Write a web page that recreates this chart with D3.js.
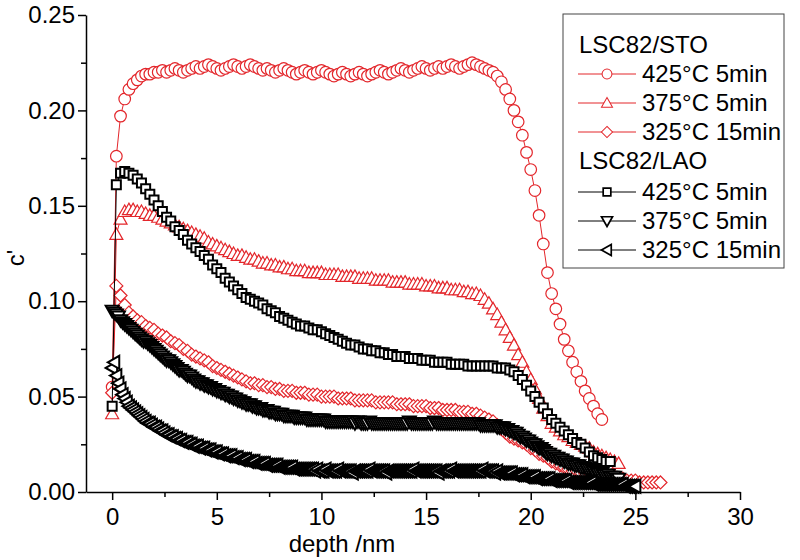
<!DOCTYPE html>
<html><head><meta charset="utf-8">
<script src="https://cdn.jsdelivr.net/npm/d3@7"></script>
<style>body{margin:0;background:#fff}svg{display:block}text{font-family:"Liberation Sans",Arial,sans-serif}</style>
</head><body><svg id="c" width="800" height="560"></svg>
<script>
// ---- data (depth in nm, uniform sampling step per series) ----
const xTicks = [0, 5, 10, 15, 20, 25, 30];
const xMinor = [2.5, 7.5, 12.5, 17.5, 22.5, 27.5];
const yTicks = [0, 0.05, 0.10, 0.15, 0.20, 0.25];
const yMinor = [0.025, 0.075, 0.125, 0.175, 0.225];
const groupLabels = ["LSC82/STO", "LSC82/LAO"];
const seriesLabels = ["425°C 5min", "375°C 5min", "325°C 15min", "425°C 5min", "375°C 5min", "325°C 15min"];
const seriesSteps = [0.2, 0.2, 0.2, 0.2, 0.1, 0.1];

const sto425 = [
0.055,0.176,0.197,0.206,0.211,0.214,0.216,0.218,0.219,0.219,
0.220,0.220,0.221,0.220,0.221,0.222,0.221,0.220,0.221,0.222,
0.223,0.222,0.223,0.224,0.223,0.222,0.221,0.222,0.223,0.224,
0.223,0.222,0.223,0.224,0.223,0.222,0.221,0.222,0.221,0.220,
0.221,0.222,0.221,0.220,0.219,0.220,0.221,0.220,0.219,0.220,
0.221,0.220,0.219,0.218,0.219,0.220,0.219,0.218,0.219,0.220,
0.219,0.218,0.219,0.220,0.221,0.220,0.219,0.220,0.221,0.222,
0.221,0.220,0.221,0.222,0.223,0.222,0.221,0.222,0.223,0.222,
0.223,0.224,0.223,0.222,0.223,0.224,0.225,0.224,0.223,0.222,
0.221,0.220,0.218,0.215,0.211,0.206,0.200,0.194,0.187,0.178,
0.169,0.158,0.145,0.130,0.115,0.104,0.096,0.088,0.080,0.074,
0.068,0.063,0.058,0.053,0.049,0.045,0.041,0.038];
const sto375 = [
0.041,0.135,0.143,0.147,0.148,0.148,0.147,0.147,0.146,0.145,
0.145,0.144,0.143,0.142,0.141,0.140,0.139,0.138,0.137,0.136,
0.135,0.134,0.133,0.131,0.130,0.129,0.128,0.127,0.126,0.125,
0.124,0.124,0.123,0.122,0.122,0.121,0.120,0.120,0.119,0.119,
0.118,0.118,0.117,0.117,0.116,0.116,0.116,0.115,0.115,0.115,
0.115,0.114,0.114,0.114,0.114,0.113,0.113,0.113,0.113,0.112,
0.112,0.112,0.112,0.111,0.111,0.111,0.111,0.110,0.110,0.110,
0.110,0.109,0.109,0.109,0.109,0.108,0.108,0.108,0.107,0.107,
0.107,0.106,0.106,0.106,0.105,0.105,0.104,0.104,0.103,0.101,
0.099,0.096,0.093,0.089,0.085,0.081,0.077,0.072,0.068,0.063,
0.059,0.054,0.049,0.044,0.040,0.036,0.034,0.032,0.030,0.029,
0.027,0.026,0.025,0.024,0.023,0.021,0.020,0.019,0.018,0.017,
0.016,0.015];
const sto325 = [
0.052,0.108,0.103,0.098,0.094,0.092,0.090,0.089,0.087,0.086,
0.085,0.083,0.082,0.081,0.079,0.078,0.077,0.075,0.074,0.072,
0.071,0.070,0.069,0.068,0.066,0.065,0.064,0.063,0.062,0.061,
0.060,0.059,0.058,0.057,0.057,0.056,0.056,0.055,0.055,0.054,
0.054,0.053,0.053,0.053,0.052,0.052,0.052,0.051,0.051,0.051,
0.050,0.050,0.050,0.050,0.049,0.049,0.049,0.049,0.048,0.048,
0.048,0.048,0.048,0.047,0.047,0.047,0.047,0.047,0.046,0.046,
0.046,0.046,0.045,0.045,0.045,0.045,0.044,0.044,0.044,0.043,
0.043,0.043,0.043,0.042,0.042,0.042,0.041,0.041,0.040,0.039,
0.038,0.037,0.035,0.033,0.031,0.029,0.028,0.027,0.026,0.025,
0.023,0.022,0.020,0.019,0.018,0.016,0.015,0.014,0.013,0.012,
0.011,0.011,0.010,0.010,0.010,0.009,0.009,0.009,0.008,0.008,
0.008,0.007,0.007,0.006,0.006,0.006,0.005,0.005,0.005,0.005,
0.005,0.005];
const lao425 = [
0.045,0.161,0.167,0.168,0.167,0.166,0.164,0.162,0.159,0.156,
0.153,0.150,0.147,0.144,0.142,0.139,0.137,0.135,0.132,0.130,
0.128,0.126,0.124,0.122,0.119,0.117,0.115,0.112,0.110,0.108,
0.106,0.104,0.102,0.101,0.100,0.099,0.098,0.096,0.095,0.094,
0.092,0.091,0.090,0.089,0.088,0.087,0.087,0.086,0.085,0.085,
0.084,0.083,0.082,0.081,0.080,0.079,0.078,0.077,0.077,0.076,
0.075,0.075,0.074,0.074,0.073,0.073,0.072,0.072,0.071,0.071,
0.071,0.070,0.070,0.070,0.069,0.069,0.069,0.068,0.068,0.068,
0.068,0.067,0.067,0.067,0.067,0.066,0.066,0.066,0.066,0.066,
0.066,0.066,0.065,0.065,0.065,0.064,0.063,0.061,0.059,0.056,
0.053,0.050,0.047,0.044,0.041,0.038,0.036,0.034,0.032,0.030,
0.028,0.026,0.025,0.023,0.021,0.019,0.018,0.017,0.016,0.016];
const lao375 = [
0.095,0.094,0.093,0.092,0.090,0.089,0.088,0.087,0.086,0.085,
0.084,0.083,0.082,0.081,0.080,0.079,0.079,0.078,0.077,0.076,
0.075,0.074,0.073,0.072,0.071,0.070,0.069,0.069,0.068,0.067,
0.066,0.065,0.064,0.064,0.063,0.062,0.061,0.061,0.060,0.059,
0.058,0.058,0.057,0.057,0.056,0.056,0.055,0.055,0.054,0.054,
0.053,0.053,0.052,0.052,0.051,0.051,0.050,0.050,0.049,0.049,
0.048,0.048,0.047,0.047,0.046,0.046,0.046,0.045,0.045,0.044,
0.044,0.044,0.043,0.043,0.043,0.042,0.042,0.042,0.041,0.041,
0.041,0.041,0.040,0.040,0.040,0.040,0.040,0.039,0.039,0.039,
0.039,0.039,0.039,0.038,0.038,0.038,0.038,0.038,0.038,0.038,
0.038,0.038,0.037,0.037,0.037,0.037,0.037,0.037,0.037,0.037,
0.037,0.037,0.037,0.037,0.037,0.037,0.036,0.037,0.037,0.036,
0.036,0.036,0.036,0.037,0.036,0.036,0.036,0.036,0.036,0.036,
0.036,0.036,0.036,0.036,0.036,0.036,0.036,0.036,0.036,0.036,
0.036,0.036,0.037,0.036,0.036,0.036,0.036,0.036,0.036,0.036,
0.036,0.036,0.036,0.036,0.037,0.036,0.036,0.036,0.036,0.036,
0.036,0.036,0.036,0.036,0.036,0.036,0.036,0.036,0.036,0.036,
0.036,0.036,0.036,0.036,0.036,0.036,0.035,0.035,0.035,0.035,
0.035,0.035,0.035,0.035,0.034,0.034,0.034,0.034,0.033,0.033,
0.032,0.032,0.031,0.031,0.030,0.029,0.029,0.028,0.027,0.027,
0.026,0.025,0.025,0.024,0.023,0.023,0.022,0.021,0.020,0.020,
0.019,0.019,0.018,0.018,0.017,0.017,0.016,0.016,0.015,0.015,
0.015,0.014,0.014,0.014,0.013,0.013,0.013,0.012,0.012,0.012,
0.011,0.011,0.010,0.010,0.010,0.009,0.009,0.009,0.008,0.008,
0.008,0.007,0.007];
const lao325 = [
0.065,0.068,0.061,0.057,0.054,0.051,0.049,0.047,0.045,0.044,
0.043,0.042,0.041,0.040,0.039,0.038,0.037,0.036,0.036,0.035,
0.034,0.034,0.033,0.032,0.032,0.031,0.030,0.030,0.029,0.029,
0.028,0.028,0.027,0.027,0.026,0.026,0.026,0.025,0.025,0.024,
0.024,0.024,0.023,0.023,0.023,0.022,0.022,0.022,0.021,0.021,
0.021,0.020,0.020,0.020,0.019,0.019,0.019,0.019,0.018,0.018,
0.018,0.017,0.017,0.017,0.017,0.016,0.016,0.016,0.016,0.015,
0.015,0.015,0.015,0.015,0.014,0.014,0.014,0.014,0.014,0.014,
0.013,0.013,0.013,0.013,0.013,0.013,0.013,0.012,0.012,0.012,
0.012,0.012,0.012,0.012,0.012,0.012,0.012,0.011,0.012,0.011,
0.011,0.011,0.012,0.011,0.011,0.011,0.011,0.011,0.012,0.011,
0.011,0.011,0.011,0.011,0.011,0.010,0.011,0.011,0.011,0.011,
0.011,0.011,0.011,0.012,0.011,0.011,0.011,0.011,0.011,0.011,
0.011,0.010,0.011,0.011,0.011,0.011,0.011,0.011,0.011,0.011,
0.011,0.011,0.011,0.011,0.012,0.011,0.011,0.011,0.011,0.011,
0.011,0.011,0.011,0.011,0.011,0.011,0.010,0.011,0.011,0.011,
0.011,0.011,0.012,0.011,0.011,0.011,0.011,0.011,0.011,0.011,
0.011,0.011,0.011,0.011,0.011,0.011,0.011,0.012,0.011,0.011,
0.011,0.011,0.011,0.010,0.011,0.010,0.010,0.010,0.010,0.010,
0.010,0.010,0.009,0.009,0.009,0.009,0.009,0.008,0.008,0.008,
0.008,0.008,0.008,0.007,0.007,0.007,0.007,0.007,0.007,0.007,
0.006,0.006,0.006,0.006,0.006,0.006,0.006,0.006,0.005,0.005,
0.005,0.005,0.005,0.005,0.005,0.005,0.005,0.005,0.005,0.005,
0.004,0.004,0.004,0.004,0.004,0.004,0.004,0.004,0.004,0.004,
0.004,0.004,0.004,0.004,0.004,0.003,0.003,0.003,0.003,0.003,
0.003];

const RED = "#e3262b", BLACK = "#000";
const seriesValues = [sto425, sto375, sto325, lao425, lao375, lao325];
const seriesShapes = ["circle", "up", "diamond", "square", "down", "left"];
const seriesColors = [RED, RED, RED, BLACK, BLACK, BLACK];

// ---- drawing ----
const svg = d3.select("#c");
const x = d3.scaleLinear().domain([-1.25, 30]).range([86, 740]);
const y = d3.scaleLinear().domain([0, 0.25]).range([492, 15]);

function shapePath(t) {
  switch (t) {
    case "circle": return d3.symbol(d3.symbolCircle, Math.PI * 5.8 * 5.8)();
    case "up": return "M0,-6.5L6.5,5L-6.5,5Z";
    case "down": return "M0,6.5L6.5,-5L-6.5,-5Z";
    case "left": return "M-6.5,0L5,-6.5L5,6.5Z";
    case "diamond": return "M0,-6.5L6.5,0L0,6.5L-6.5,0Z";
    case "square": return "M-4.5,-4.5H4.5V4.5H-4.5Z";
  }
}

const series = seriesValues.map((vals, k) => ({
  pts: vals.map((v, i) => [i * seriesSteps[k], v]),
  shape: seriesShapes[k], color: seriesColors[k]
}));

const plot = svg.append("g");
const line = d3.line().x(d => x(d[0])).y(d => y(d[1]));
series.forEach(s => {
  const g = plot.append("g");
  g.append("path").attr("d", line(s.pts)).attr("fill", "none")
    .attr("stroke", s.color).attr("stroke-width", 1);
  const p = shapePath(s.shape);
  g.selectAll("path.m").data(s.pts).join("path").attr("class", "m")
    .attr("d", p).attr("transform", d => `translate(${x(d[0])},${y(d[1])})`)
    .attr("fill", "#fff").attr("stroke", s.color)
    .attr("stroke-width", s.color === RED ? 1.2 : 2);
});

// axes
const fontSize = "24px";
svg.append("g").attr("transform", "translate(0,492)")
  .call(d3.axisBottom(x).tickValues(xTicks).tickFormat(d3.format("d")).tickSize(8).tickSizeOuter(0).tickPadding(8));
svg.append("g").attr("transform", "translate(0,492)")
  .call(d3.axisBottom(x).tickValues(xMinor).tickFormat("").tickSize(5).tickSizeOuter(0))
  .select(".domain").remove();
svg.append("g").attr("transform", "translate(86,0)")
  .call(d3.axisLeft(y).tickValues(yTicks).tickFormat(d3.format(".2f")).tickSize(8).tickSizeOuter(0).tickPadding(3));
svg.append("g").attr("transform", "translate(86,0)")
  .call(d3.axisLeft(y).tickValues(yMinor).tickFormat("").tickSize(5).tickSizeOuter(0))
  .select(".domain").remove();
svg.selectAll(".domain, .tick line").attr("stroke", "#000").attr("stroke-width", 1.5);
svg.selectAll(".tick text").attr("font-size", fontSize).attr("fill", "#000")
  .attr("font-family", '"Liberation Sans", Arial, sans-serif');

svg.append("text").attr("x", 342).attr("y", 552).attr("text-anchor", "middle")
  .attr("font-size", fontSize).text("depth /nm");
svg.append("text").attr("transform", "translate(24,258) rotate(-90)").attr("text-anchor", "middle")
  .attr("font-size", fontSize).text("c'");

// legend
const lg = svg.append("g");
lg.append("rect").attr("x", 563).attr("y", 14).attr("width", 221).attr("height", 254)
  .attr("fill", "#fff").attr("stroke", "#444").attr("stroke-width", 1);
const headerBase = [53, 169];
const rowBase = [82, 111, 140, 200, 229, 258];
groupLabels.forEach((t, i) => {
  lg.append("text").attr("x", 579).attr("y", headerBase[i]).attr("font-size", fontSize).text(t);
});
seriesLabels.forEach((t, k) => {
  const yy = rowBase[k] - 8;
  lg.append("line").attr("x1", 578).attr("x2", 636).attr("y1", yy).attr("y2", yy)
    .attr("stroke", seriesColors[k]).attr("stroke-width", 1);
  lg.append("path").attr("d", shapePath(seriesShapes[k])).attr("transform", `translate(607,${yy}) scale(0.85)`)
    .attr("fill", "#fff").attr("stroke", seriesColors[k])
    .attr("stroke-width", seriesColors[k] === RED ? 1.2 : 2);
  lg.append("text").attr("x", 642).attr("y", rowBase[k]).attr("font-size", fontSize).text(t);
});
</script></body></html>
